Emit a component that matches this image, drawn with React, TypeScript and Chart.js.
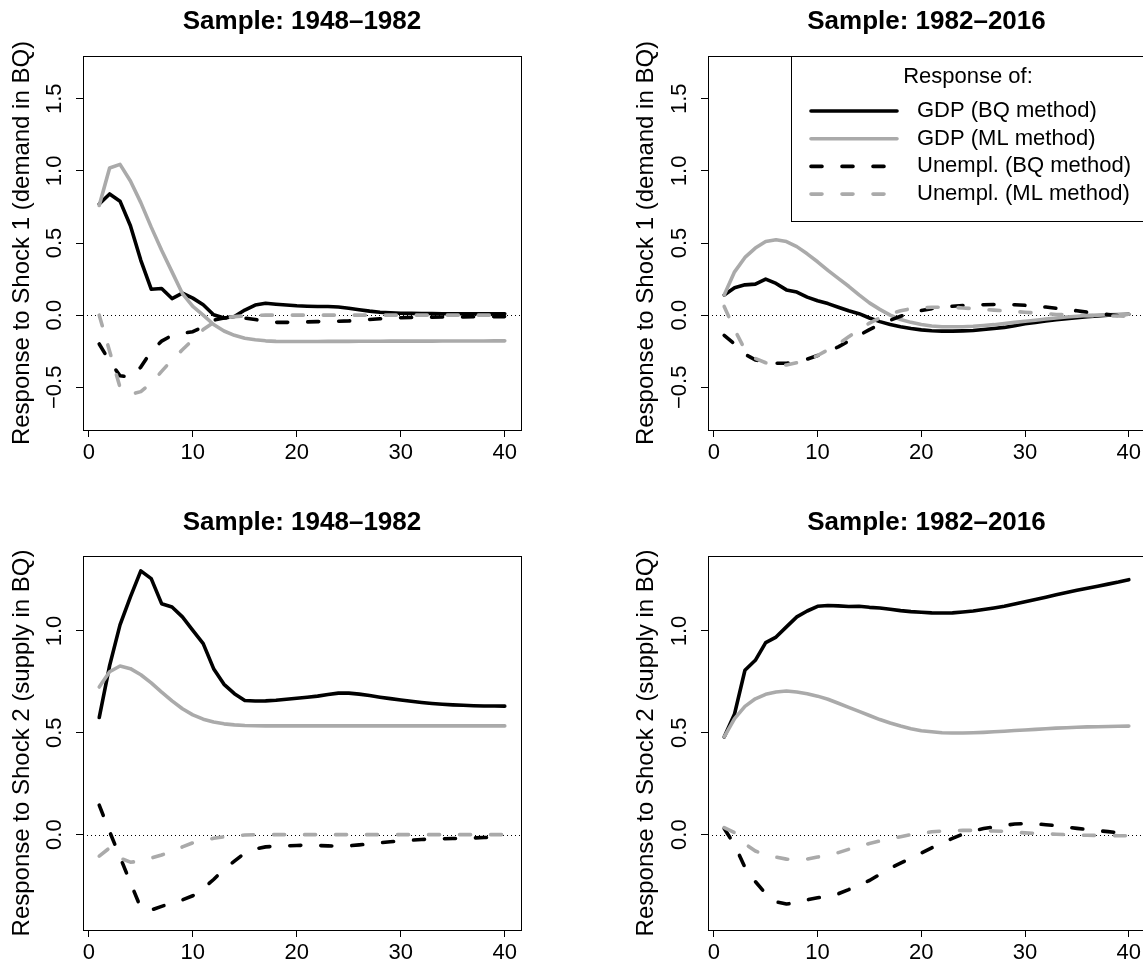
import React, { useEffect, useRef } from "react";
import { Chart, registerables } from "chart.js";

Chart.register(...registerables);

const FONT = "'Liberation Sans', Arial, Helvetica, sans-serif";

// ---------- data ----------
const HORIZON = [1, 2, 3, 4, 5, 6, 7, 8, 9, 10, 11, 12, 13, 14, 15, 16, 17, 18, 19, 20, 21, 22, 23, 24, 25, 26, 27, 28, 29, 30, 31, 32, 33, 34, 35, 36, 37, 38, 39, 40];
const X_LIM = [1, 40];
const X_TICKS = [0, 10, 20, 30, 40];
const Y_LIM_SHOCK1 = [-0.7, 1.7];
const Y_LIM_SHOCK2 = [-0.4, 1.3];
const Y_TICKS_SHOCK1 = [-0.5, 0, 0.5, 1, 1.5];
const Y_TICKS_SHOCK2 = [0, 0.5, 1];

const PANEL_TITLES = ["Sample: 1948\u20131982", "Sample: 1982\u20132016"];
const Y_LABELS = ["Response to Shock 1 (demand in BQ)", "Response to Shock 2 (supply in BQ)"];
const LEGEND_TITLE = "Response of:";
const SERIES_LABELS = ["GDP (BQ method)", "GDP (ML method)", "Unempl. (BQ method)", "Unempl. (ML method)"];

// Shock 1, sample 1948-1982
const gdpBQ_S1_1948 = [0.77, 0.84, 0.79, 0.62, 0.38, 0.18, 0.185, 0.115, 0.153, 0.118, 0.072, 0.003, -0.02, -0.01, 0.035, 0.07, 0.082, 0.076, 0.07, 0.065, 0.062, 0.06, 0.06, 0.056, 0.048, 0.038, 0.028, 0.02, 0.016, 0.013, 0.012, 0.011, 0.011, 0.01, 0.01, 0.01, 0.01, 0.01, 0.01, 0.01];
const gdpML_S1_1948 = [0.76, 1.02, 1.045, 0.93, 0.78, 0.61, 0.45, 0.3, 0.15, 0.06, 0.0, -0.065, -0.11, -0.14, -0.16, -0.171, -0.178, -0.182, -0.183, -0.183, -0.183, -0.183, -0.182, -0.182, -0.182, -0.181, -0.181, -0.181, -0.18, -0.18, -0.18, -0.18, -0.18, -0.179, -0.179, -0.179, -0.179, -0.179, -0.178, -0.178];
const unBQ_S1_1948 = [-0.2, -0.32, -0.42, -0.43, -0.36, -0.25, -0.18, -0.14, -0.125, -0.115, -0.08, -0.035, -0.02, -0.015, -0.02, -0.03, -0.045, -0.05, -0.05, -0.05, -0.047, -0.045, -0.044, -0.042, -0.04, -0.035, -0.03, -0.025, -0.02, -0.018, -0.016, -0.015, -0.014, -0.013, -0.012, -0.012, -0.011, -0.011, -0.01, -0.01];
const unML_S1_1948 = [0.0, -0.25, -0.5, -0.55, -0.53, -0.47, -0.39, -0.31, -0.24, -0.17, -0.1, -0.05, -0.02, -0.01, -0.005, -0.002, 0, 0, 0, 0, 0, 0, 0, 0, 0, 0, 0, 0, 0, 0, 0, 0, 0, 0, 0, 0, 0, 0, 0, 0];

// Shock 1, sample 1982-2016
const gdpBQ_S1_1982 = [0.14, 0.19, 0.21, 0.215, 0.25, 0.22, 0.175, 0.16, 0.125, 0.1, 0.08, 0.055, 0.03, 0.01, -0.02, -0.045, -0.065, -0.08, -0.093, -0.102, -0.108, -0.111, -0.111, -0.109, -0.106, -0.1, -0.093, -0.085, -0.073, -0.06, -0.05, -0.041, -0.032, -0.024, -0.017, -0.01, -0.005, 0.0, 0.003, 0.006];
const gdpML_S1_1982 = [0.14, 0.3, 0.4, 0.465, 0.51, 0.523, 0.51, 0.475, 0.425, 0.37, 0.31, 0.255, 0.2, 0.14, 0.085, 0.04, 0.0, -0.03, -0.05, -0.065, -0.075, -0.08, -0.08, -0.08, -0.077, -0.072, -0.066, -0.058, -0.05, -0.042, -0.035, -0.027, -0.02, -0.013, -0.008, -0.003, 0.0, 0.003, 0.005, 0.006];
const unBQ_S1_1982 = [-0.14, -0.2, -0.27, -0.31, -0.325, -0.333, -0.333, -0.325, -0.305, -0.28, -0.25, -0.22, -0.18, -0.14, -0.1, -0.065, -0.035, -0.008, 0.015, 0.032, 0.045, 0.055, 0.062, 0.067, 0.07, 0.072, 0.074, 0.074, 0.072, 0.068, 0.063, 0.056, 0.048, 0.04, 0.03, 0.02, 0.012, 0.004, -0.003, -0.008];
const unML_S1_1982 = [0.06, -0.1, -0.24, -0.3, -0.33, -0.345, -0.345, -0.33, -0.31, -0.28, -0.24, -0.2, -0.15, -0.1, -0.055, -0.02, 0.01, 0.03, 0.045, 0.05, 0.055, 0.055, 0.055, 0.05, 0.045, 0.04, 0.035, 0.03, 0.025, 0.02, 0.015, 0.01, 0.005, 0.002, 0.0, -0.002, -0.004, -0.005, -0.006, -0.007];

// Shock 2, sample 1948-1982
const gdpBQ_S2_1948 = [0.575, 0.83, 1.03, 1.167, 1.295, 1.257, 1.134, 1.118, 1.069, 1.003, 0.938, 0.815, 0.738, 0.692, 0.659, 0.656, 0.657, 0.66, 0.665, 0.67, 0.675, 0.68, 0.688, 0.695, 0.695, 0.69, 0.683, 0.675, 0.668, 0.661, 0.655, 0.649, 0.644, 0.64, 0.637, 0.635, 0.633, 0.632, 0.632, 0.631];
const gdpML_S2_1948 = [0.725, 0.8, 0.828, 0.815, 0.785, 0.745, 0.7, 0.657, 0.618, 0.588, 0.567, 0.553, 0.544, 0.539, 0.536, 0.535, 0.534, 0.534, 0.534, 0.534, 0.534, 0.534, 0.534, 0.534, 0.534, 0.534, 0.534, 0.534, 0.534, 0.534, 0.534, 0.534, 0.534, 0.534, 0.534, 0.534, 0.534, 0.534, 0.534, 0.534];
const unBQ_S2_1948 = [0.145, 0.015, -0.11, -0.235, -0.36, -0.37, -0.352, -0.335, -0.32, -0.3, -0.265, -0.22, -0.17, -0.13, -0.09, -0.07, -0.06, -0.057, -0.055, -0.053, -0.052, -0.053, -0.055, -0.056, -0.055, -0.05, -0.046, -0.04, -0.035, -0.03, -0.027, -0.024, -0.021, -0.02, -0.019, -0.018, -0.016, -0.014, -0.013, -0.012];
const unML_S2_1948 = [-0.105, -0.065, -0.115, -0.135, -0.13, -0.115, -0.1, -0.08, -0.06, -0.04, -0.028, -0.018, -0.01, -0.005, -0.002, 0, 0, 0, 0, 0, 0, 0, 0, 0, 0, 0, 0, 0, 0, 0, 0, 0, 0, 0, 0, 0, 0, 0, 0, 0];

// Shock 2, sample 1982-2016
const gdpBQ_S2_1982 = [0.479, 0.593, 0.807, 0.856, 0.943, 0.97, 1.02, 1.069, 1.098, 1.121, 1.125, 1.123, 1.12, 1.121, 1.116, 1.113, 1.107, 1.1, 1.095, 1.092, 1.089, 1.088, 1.089, 1.093, 1.098, 1.105, 1.113, 1.121, 1.132, 1.143, 1.155, 1.166, 1.178, 1.189, 1.2, 1.21, 1.22, 1.23, 1.24, 1.252];
const gdpML_S2_1982 = [0.48, 0.57, 0.63, 0.667, 0.689, 0.7, 0.705, 0.7, 0.692, 0.68, 0.665, 0.645, 0.625, 0.605, 0.585, 0.565, 0.548, 0.533, 0.52, 0.51, 0.505, 0.5, 0.499, 0.499, 0.5, 0.502, 0.505, 0.508, 0.511, 0.514, 0.517, 0.52, 0.523, 0.525, 0.527, 0.529, 0.53, 0.531, 0.532, 0.533];
const unBQ_S2_1982 = [0.03, -0.05, -0.16, -0.23, -0.29, -0.33, -0.34, -0.335, -0.32, -0.31, -0.3, -0.29, -0.27, -0.245, -0.225, -0.195, -0.165, -0.14, -0.115, -0.09, -0.065, -0.04, -0.018, 0.003, 0.018, 0.03, 0.038, 0.046, 0.052, 0.054, 0.053, 0.049, 0.044, 0.037, 0.031, 0.025, 0.02, 0.015, 0.009, 0.003];
const unML_S2_1982 = [0.035, 0.01, -0.045, -0.08, -0.1, -0.11, -0.12, -0.123, -0.12, -0.11, -0.1, -0.088, -0.072, -0.057, -0.043, -0.031, -0.02, -0.01, 0.0, 0.008, 0.014, 0.018, 0.02, 0.021, 0.021, 0.02, 0.018, 0.016, 0.012, 0.009, 0.006, 0.004, 0.002, 0.0, -0.002, -0.003, -0.004, -0.004, -0.005, -0.005];

// ---------- styles ----------
const GRAY = "#aaaaaa";
const LINE_WIDTH = 3.6;
const DASH = [11, 20];
const SERIES_STYLE = [
  { color: "#000000", dash: [] as number[] },
  { color: GRAY, dash: [] as number[] },
  { color: "#000000", dash: DASH },
  { color: GRAY, dash: DASH },
];

const TICK_SIZE = 22;
const TITLE_SIZE = 26;
const YLAB_SIZE = 24;
const LEGEND_SIZE = 22;
const TICK_LEN = 7;

const fmtY = (v: number) => v.toFixed(1).replace("-", "\u2212");

type Box = { l: number; r: number; t: number; b: number };
type LegendSpec = { left: number; bottom: number; titleY: number; rowY0: number; rowStep: number; lineX0: number; lineX1: number; textX: number };
type PanelProps = {
  left: number; top: number; width: number; height: number;
  box: Box; titleY: number; yTitleX: number;
  title: string; yLabel: string; yLim: number[]; yTicks: number[];
  series: number[][]; legend?: LegendSpec;
};

function Panel(p: PanelProps) {
  const ref = useRef<HTMLCanvasElement>(null);
  useEffect(() => {
    const canvas = ref.current as HTMLCanvasElement;
    const mctx = canvas.getContext("2d") as CanvasRenderingContext2D;
    mctx.font = `${TICK_SIZE}px ${FONT}`;
    const widest = Math.max(...p.yTicks.map((v) => mctx.measureText(fmtY(v)).width));
    const yPad = 28.5 - TICK_LEN - widest / 2;
    const tickLH = TICK_SIZE * 1.2;
    const xPad = 23.3 - TICK_LEN - tickLH / 2;
    const titleLH = TITLE_SIZE * 1.2;
    const titlePadTop = p.titleY - titleLH / 2;
    const titlePadBottom = p.box.t - titlePadTop - titleLH;
    const xr = X_LIM[1] - X_LIM[0];
    const yr = p.yLim[1] - p.yLim[0];

    const deco = {
      id: "rdeco",
      beforeDatasetsDraw(chart: any) {
        const { ctx, chartArea } = chart;
        const y0 = Math.round(chart.scales.y.getPixelForValue(0)) + 0.5;
        ctx.save();
        ctx.strokeStyle = "#000";
        ctx.lineWidth = 1;
        ctx.setLineDash([1, 3]);
        ctx.beginPath();
        ctx.moveTo(chartArea.left, y0);
        ctx.lineTo(chartArea.right, y0);
        ctx.stroke();
        ctx.restore();
      },
      afterDraw(chart: any) {
        const { ctx, chartArea } = chart;
        ctx.save();
        ctx.strokeStyle = "#000";
        ctx.lineWidth = 1;
        ctx.setLineDash([]);
        ctx.strokeRect(chartArea.left + 0.5, chartArea.top + 0.5, chartArea.right - chartArea.left, chartArea.bottom - chartArea.top);
        // y-axis title
        ctx.fillStyle = "#000";
        ctx.font = `${YLAB_SIZE}px ${FONT}`;
        ctx.textAlign = "center";
        ctx.textBaseline = "middle";
        ctx.translate(p.yTitleX, (chartArea.top + chartArea.bottom) / 2);
        ctx.rotate(-Math.PI / 2);
        ctx.fillText(p.yLabel, 0, 0);
        ctx.restore();
        if (p.legend) {
          const L = p.legend;
          ctx.save();
          ctx.strokeStyle = "#000";
          ctx.lineWidth = 1;
          ctx.strokeRect(L.left + 0.5, chartArea.top + 0.5, chartArea.right - L.left, L.bottom - chartArea.top);
          ctx.fillStyle = "#000";
          ctx.font = `${LEGEND_SIZE}px ${FONT}`;
          ctx.textBaseline = "middle";
          ctx.textAlign = "center";
          ctx.fillText(LEGEND_TITLE, (L.left + chartArea.right) / 2, L.titleY);
          ctx.textAlign = "left";
          chart.data.datasets.forEach((ds: any, i: number) => {
            const y = L.rowY0 + i * L.rowStep;
            ctx.save();
            ctx.strokeStyle = ds.borderColor;
            ctx.lineWidth = ds.borderWidth;
            ctx.lineCap = "round";
            ctx.setLineDash(ds.borderDash || []);
            ctx.beginPath();
            ctx.moveTo(L.lineX0, y);
            ctx.lineTo(L.lineX1, y);
            ctx.stroke();
            ctx.restore();
            ctx.fillText(ds.label, L.textX, y);
          });
          ctx.restore();
        }
      },
    };

    const grid = { display: true, drawOnChartArea: false, drawTicks: true, tickLength: TICK_LEN, color: "#000", lineWidth: 1 };

    const chart = new Chart(canvas, {
      type: "line",
      data: {
        datasets: p.series.map((s, i) => ({
          label: SERIES_LABELS[i],
          data: HORIZON.map((h, j) => ({ x: h, y: s[j] })),
          borderColor: SERIES_STYLE[i].color,
          backgroundColor: SERIES_STYLE[i].color,
          borderWidth: LINE_WIDTH,
          borderDash: SERIES_STYLE[i].dash,
          borderCapStyle: "round",
          borderJoinStyle: "round",
          pointRadius: 0,
          pointHoverRadius: 0,
          tension: 0,
          fill: false,
          order: 3 - i,
        })),
      },
      options: {
        animation: false,
        responsive: false,
        maintainAspectRatio: false,
        devicePixelRatio: 1,
        events: [],
        layout: { padding: { left: 0, top: 0, right: p.width - p.box.r, bottom: 0 } },
        plugins: {
          legend: { display: false },
          tooltip: { enabled: false },
          title: {
            display: true,
            text: p.title,
            color: "#000",
            fullSize: false,
            font: { family: FONT, size: TITLE_SIZE, weight: "bold", lineHeight: 1.2 },
            padding: { top: titlePadTop, bottom: titlePadBottom },
          },
        },
        scales: {
          x: {
            type: "linear",
            position: "bottom",
            bounds: "data",
            min: X_LIM[0] - 0.04 * xr,
            max: X_LIM[1] + 0.04 * xr,
            afterBuildTicks: (s: any) => { s.ticks = X_TICKS.map((v) => ({ value: v })); },
            afterFit: (s: any) => { s.height = p.height - p.box.b; },
            grid,
            border: { display: false },
            ticks: {
              color: "#000",
              font: { family: FONT, size: TICK_SIZE, lineHeight: 1.2 },
              padding: xPad,
              autoSkip: false,
              maxRotation: 0,
              minRotation: 0,
              callback: (v: any) => String(v),
            },
          },
          y: {
            type: "linear",
            position: "left",
            bounds: "data",
            min: p.yLim[0] - 0.04 * yr,
            max: p.yLim[1] + 0.04 * yr,
            afterBuildTicks: (s: any) => { s.ticks = p.yTicks.map((v) => ({ value: v })); },
            afterFit: (s: any) => { s.width = p.box.l; },
            grid,
            border: { display: false },
            ticks: {
              color: "#000",
              font: { family: FONT, size: TICK_SIZE, lineHeight: 1.2 },
              padding: yPad,
              autoSkip: false,
              minRotation: 90,
              maxRotation: 90,
              crossAlign: "center",
              callback: (v: any) => fmtY(Number(v)),
            },
          },
        },
      } as any,
      plugins: [deco],
    });
    return () => chart.destroy();
  }, []);
  return (
    <canvas
      ref={ref}
      width={p.width}
      height={p.height}
      style={{ position: "absolute", left: p.left, top: p.top, width: p.width, height: p.height }}
    />
  );
}

export default function App() {
  const legend: LegendSpec = { left: 220, bottom: 221, titleY: 77, rowY0: 111, rowStep: 27.7, lineX0: 240, lineX1: 326, textX: 346 };
  return (
    <div style={{ position: "absolute", left: 0, top: 0, width: 1143, height: 965, overflow: "hidden", background: "#fff" }}>
      <Panel left={0} top={0} width={571} height={482} box={{ l: 83, r: 521, t: 56, b: 430 }} titleY={21.7} yTitleX={22.5}
        title={PANEL_TITLES[0]} yLabel={Y_LABELS[0]} yLim={Y_LIM_SHOCK1} yTicks={Y_TICKS_SHOCK1}
        series={[gdpBQ_S1_1948, gdpML_S1_1948, unBQ_S1_1948, unML_S1_1948]} />
      <Panel left={571} top={0} width={576} height={482} box={{ l: 137, r: 574, t: 56, b: 430 }} titleY={21.7} yTitleX={75}
        title={PANEL_TITLES[1]} yLabel={Y_LABELS[0]} yLim={Y_LIM_SHOCK1} yTicks={Y_TICKS_SHOCK1}
        series={[gdpBQ_S1_1982, gdpML_S1_1982, unBQ_S1_1982, unML_S1_1982]} legend={legend} />
      <Panel left={0} top={482} width={571} height={483} box={{ l: 83, r: 521, t: 74, b: 448 }} titleY={40.5} yTitleX={22}
        title={PANEL_TITLES[0]} yLabel={Y_LABELS[1]} yLim={Y_LIM_SHOCK2} yTicks={Y_TICKS_SHOCK2}
        series={[gdpBQ_S2_1948, gdpML_S2_1948, unBQ_S2_1948, unML_S2_1948]} />
      <Panel left={571} top={482} width={576} height={483} box={{ l: 137, r: 574, t: 74, b: 448 }} titleY={40.5} yTitleX={75}
        title={PANEL_TITLES[1]} yLabel={Y_LABELS[1]} yLim={Y_LIM_SHOCK2} yTicks={Y_TICKS_SHOCK2}
        series={[gdpBQ_S2_1982, gdpML_S2_1982, unBQ_S2_1982, unML_S2_1982]} />
    </div>
  );
}
